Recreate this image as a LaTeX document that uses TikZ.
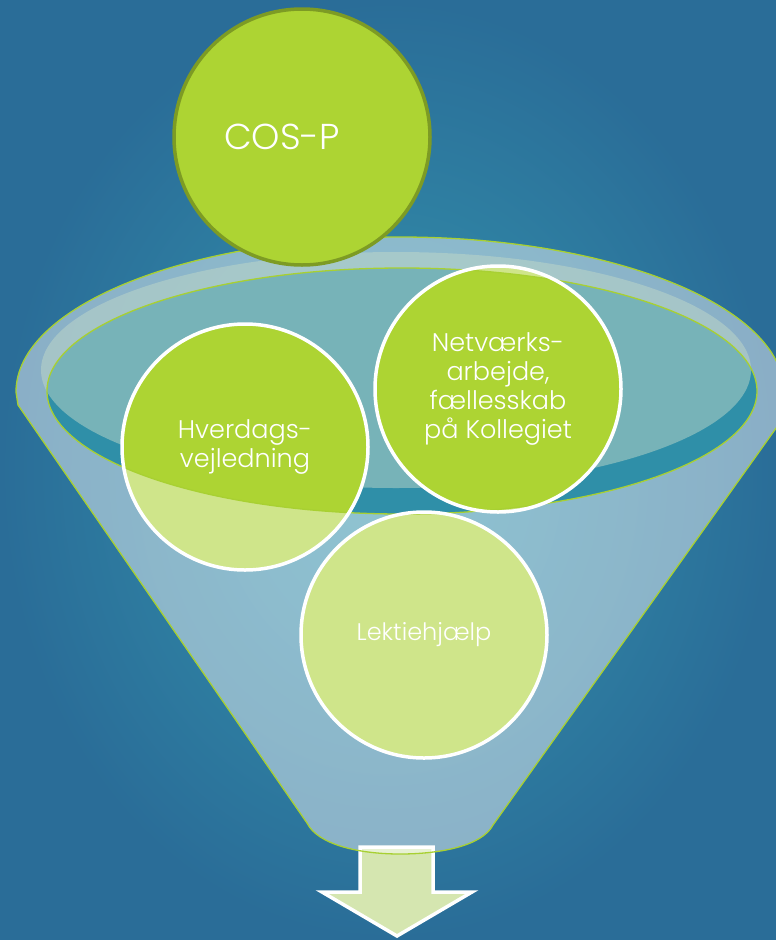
\documentclass[tikz,border=0pt]{standalone}
\usepackage{fontspec}
\setmainfont{Poppins Light}
\usepackage{tikz}

\definecolor{bgmid}{HTML}{3496AE}
\definecolor{bgedge}{HTML}{2A6D98}
\definecolor{bubblegreen}{HTML}{ADD433}
\definecolor{bubblepale}{HTML}{CFE58A}
\definecolor{cosedge}{HTML}{7D9B24}
\definecolor{rimgreen}{HTML}{A8D032}
\definecolor{openingblue}{HTML}{2F8FA8}
\definecolor{shine}{HTML}{C0D8C8}
\definecolor{arrowfill}{HTML}{D5E6B0}

\begin{document}
\begin{tikzpicture}[x = 1pt, y = -1pt,
		bubble/.style = {circle, draw = white, line width = 3.5pt, minimum size = 246pt, inner sep = 0pt, text = white, align = center, font = \fontsize{25.5}{29}\selectfont},
		cosball/.style = {circle, fill = bubblegreen, draw = cosedge, line width = 3.5pt, minimum size = 256pt, inner sep = 0pt},
		funnelbody/.style = {fill = white, fill opacity = 0.45, draw = rimgreen, draw opacity = 1, line width = 1.3pt}]
		\useasboundingbox (0, 0) rectangle (776, 940);
		\shade[inner color = bgmid, outer color = bgedge] (0, 0) rectangle (776, 940);
		\clip (0, 0) rectangle (776, 940);
		\filldraw[fill = arrowfill, draw = white, line width = 3.5pt] (360, 847) -- (433, 847) -- (433, 892) -- (472, 892) -- (397, 936) -- (322, 892) -- (360, 892) -- cycle;
		\path[funnelbody] (16, 392) arc[start angle = 180, end angle = 360, x radius = 384, y radius = 155] -- (789, 410) -- (493, 825) .. controls (482, 846) and (440, 854) .. (400, 854) .. controls (360, 854) and (318, 845) .. (307, 823) -- (18, 405) -- cycle;
		\fill[openingblue] (402, 391) ellipse[x radius = 355, y radius = 123];
		\fill[shine, opacity = 0.5] (396, 370) ellipse[x radius = 355, y radius = 118];
		\coordinate (hv) at (245, 447);
		\coordinate (nv) at (498, 389);
		\coordinate (lk) at (424, 635);
		\foreach \c in {hv, nv, lk}
			\fill[bubblepale] (\c) circle[radius = 123];
		\begin{scope}
			\clip (402, 391) ellipse[x radius = 355, y radius = 123];
			\foreach \c in {hv, nv, lk}
				\fill[bubblegreen] (\c) circle[radius = 123];
		\end{scope}
		\draw[rimgreen, line width = 1.3pt] (402, 391) ellipse[x radius = 355, y radius = 123];
		\node[bubble] (hverdags) at (hv) {Hverdags-\\vejledning};
		\node[bubble] (netvaerk) at (nv) {Netværks-\\arbejde,\\fællesskab\\på Kollegiet};
		\node[bubble, font = \fontsize{24}{28}\selectfont] (lektie) at (lk) {Lektiehjælp};
		\node[cosball, label = {[xshift = -20pt, text = white, font = \fontsize{36}{40}\selectfont]center:COS-P}] (cosp) at (302, 137) {};
	\end{tikzpicture}
\end{document}
